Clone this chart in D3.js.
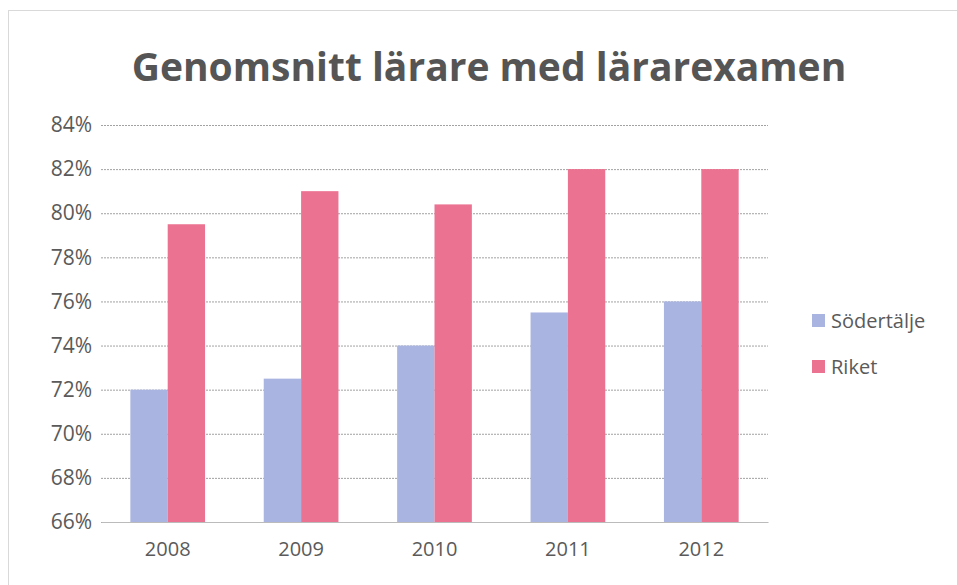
<!DOCTYPE html>
<html>
<head>
<meta charset="utf-8">
<script src="https://cdn.jsdelivr.net/npm/d3@7"></script>
<style>
  body { margin: 0; background: #fff; }
  svg { font-family: "Open Sans", "DejaVu Sans", sans-serif; }
</style>
</head>
<body>
<div id="chart"></div>
<script>
// chart data
const years = ["2008", "2009", "2010", "2011", "2012"];
const sodertalje = [72.0, 72.5, 74.0, 75.5, 76.0];
const riket = [79.5, 81.0, 80.4, 82.0, 82.0];
const seriesNames = ["Södertälje", "Riket"];
const yTicks = [66, 68, 70, 72, 74, 76, 78, 80, 82, 84];

const FRAME_WIDTH = 957;
const FRAME_HEIGHT = 585;
const MARGINS = {left: 101, right: 189, top: 125, bottom: 63};
const VIS_WIDTH = FRAME_WIDTH - MARGINS.left - MARGINS.right;
const VIS_HEIGHT = FRAME_HEIGHT - MARGINS.top - MARGINS.bottom;
const COLORS = ["#aab4e0", "#ec7291"];

const svg = d3.select("#chart")
    .append("svg")
    .attr("width", FRAME_WIDTH)
    .attr("height", FRAME_HEIGHT);

// outer frame
svg.append("rect")
    .attr("x", 8.5).attr("y", 10.5)
    .attr("width", 960).attr("height", 590)
    .attr("fill", "none")
    .attr("stroke", "#d9d9d9");

svg.append("text")
    .attr("x", 489).attr("y", 81)
    .attr("text-anchor", "middle")
    .attr("font-size", "39px")
    .attr("font-weight", "bold")
    .attr("fill", "#555")
    .text("Genomsnitt lärare med lärarexamen");

const X_SCALE = d3.scaleBand()
    .domain(years)
    .range([0, VIS_WIDTH])
    .paddingInner(0.44)
    .paddingOuter(0.22);

const SUB_SCALE = d3.scaleBand()
    .domain(seriesNames)
    .range([0, X_SCALE.bandwidth()]);

const Y_SCALE = d3.scaleLinear()
    .domain([66, 84])
    .range([VIS_HEIGHT, 0]);

const plot = svg.append("g")
    .attr("transform", "translate(" + MARGINS.left + "," + MARGINS.top + ")");

// gridlines
plot.append("g")
    .call(d3.axisLeft(Y_SCALE).tickValues(yTicks).tickSize(-VIS_WIDTH).tickFormat(""))
    .call(g => g.select(".domain").remove())
    .call(g => g.selectAll("line").attr("stroke", "#8a8a8a").attr("stroke-width", 0.8)
        .attr("stroke-dasharray", "2,1"));

// y axis labels
plot.append("g")
    .call(d3.axisLeft(Y_SCALE).tickValues(yTicks).tickSize(0).tickPadding(9)
        .tickFormat(d => d + "%"))
    .call(g => g.select(".domain").remove())
    .call(g => g.selectAll("text").attr("font-size", "21px").attr("fill", "#5a5a5a")
        .attr("font-family", "'Open Sans', sans-serif"));

const rows = years.map((y, i) => ({year: y, vals: [sodertalje[i], riket[i]]}));

const groups = plot.selectAll(".grp")
    .data(rows)
    .enter()
    .append("g")
    .attr("transform", d => "translate(" + X_SCALE(d.year) + ",0)");

groups.selectAll("rect")
    .data(d => d.vals.map((v, j) => ({name: seriesNames[j], v: v, j: j})))
    .enter()
    .append("rect")
    .attr("x", d => SUB_SCALE(d.name))
    .attr("y", d => Y_SCALE(d.v))
    .attr("width", SUB_SCALE.bandwidth())
    .attr("height", d => VIS_HEIGHT - Y_SCALE(d.v))
    .attr("fill", d => COLORS[d.j]);

// x axis
plot.append("g")
    .attr("transform", "translate(0," + VIS_HEIGHT + ")")
    .call(d3.axisBottom(X_SCALE).tickSize(0).tickPadding(20))
    .call(g => g.select(".domain").attr("stroke", "#bbb"))
    .call(g => g.selectAll("text").attr("font-size", "20px").attr("fill", "#5a5a5a")
        .attr("font-family", "'Open Sans', sans-serif"));

// legend
const legend = svg.append("g")
    .attr("transform", "translate(812,314)");

legend.selectAll("rect")
    .data(seriesNames)
    .enter()
    .append("rect")
    .attr("x", 0)
    .attr("y", (d, i) => i * 46)
    .attr("width", 13).attr("height", 13)
    .attr("fill", (d, i) => COLORS[i]);

legend.selectAll("text")
    .data(seriesNames)
    .enter()
    .append("text")
    .attr("x", 19)
    .attr("y", (d, i) => i * 46 + 14)
    .attr("font-size", "20px")
    .attr("fill", "#5a5a5a")
    .text(d => d);
</script>
</body>
</html>
